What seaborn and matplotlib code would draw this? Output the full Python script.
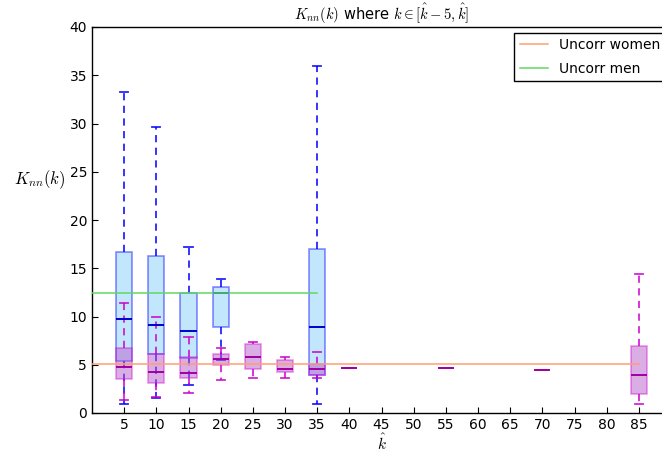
import numpy as np
import pandas as pd
import matplotlib
matplotlib.use("Agg")
import matplotlib.pyplot as plt
import seaborn as sns

# ---- data ----
men_k   = [5, 10, 15, 20, 35]
men_min = [0.93, 1.55, 2.87, 5.46, 0.93]
men_q1  = [5.39, 6.08, 5.66, 8.95, 3.94]
men_med = [9.74, 9.08, 8.50, 12.40, 8.95]
men_q3  = [16.65, 16.30, 12.40, 13.10, 16.96]
men_max = [33.30, 29.60, 17.20, 13.90, 36.00]

women_k   = [5, 10, 15, 20, 25, 30, 35, 40, 55, 70, 85]
women_min = [1.30, 1.70, 2.11, 3.38, 3.66, 3.66, 3.66, 4.70, 4.70, 4.45, 0.93]
women_q1  = [3.49, 3.15, 3.59, 4.97, 4.52, 4.28, 3.94, 4.70, 4.70, 4.45, 1.93]
women_med = [4.80, 4.28, 4.18, 5.63, 5.77, 4.52, 4.52, 4.70, 4.70, 4.45, 3.94]
women_q3  = [6.70, 6.08, 5.77, 6.10, 7.10, 5.49, 5.04, 4.70, 4.70, 4.45, 6.90]
women_max = [11.40, 9.95, 7.84, 6.70, 7.39, 5.84, 6.29, 4.70, 4.70, 4.45, 14.40]

uncorr_women = 5.04
uncorr_men = 12.47
xticks = list(range(5, 90, 5))
yticks = list(range(0, 45, 5))


def long_form(ks, mins, q1s, meds, q3s, maxs):
    rows = []
    for k, a, b, c, d, e in zip(ks, mins, q1s, meds, q3s, maxs):
        for v in (a, b, c, d, e):
            rows.append({"k": k, "v": v})
    return pd.DataFrame(rows)


df_men = long_form(men_k, men_min, men_q1, men_med, men_q3, men_max)
df_women = long_form(women_k, women_min, women_q1, women_med, women_q3, women_max)

plt.rcParams.update({
    "font.family": ["DejaVu Sans"],
    "font.size": 10,
    "mathtext.fontset": "cm",
    "xtick.direction": "in",
    "ytick.direction": "in",
    "xtick.major.size": 4,
    "ytick.major.size": 4,
})

fig = plt.figure(figsize=(6.62, 4.5), dpi=100)
ax = fig.add_axes([92 / 662, 1 - 413 / 450, (671 - 92) / 662, (413 - 27) / 450])

dash = (0, (4, 3))
sns.boxplot(
    data=df_men, x="k", y="v", native_scale=True, orient="x",
    whis=(0, 100), width=0.5, ax=ax, showfliers=False,
    boxprops=dict(facecolor=(0.53, 0.81, 0.98, 0.5), edgecolor=(0, 0, 1, 0.45), linewidth=1.2),
    medianprops=dict(color="#0000cc", linewidth=1.4),
    whiskerprops=dict(color="#0000ff", linestyle=dash, linewidth=1.3, alpha=0.85),
    capprops=dict(color="#0000ff", linewidth=1.3, alpha=0.85),
)
sns.boxplot(
    data=df_women, x="k", y="v", native_scale=True, orient="x",
    whis=(0, 100), width=0.5, ax=ax, showfliers=False,
    boxprops=dict(facecolor=(0.725, 0.365, 0.804, 0.5), edgecolor=(0.8, 0, 0.8, 0.4), linewidth=1.2),
    medianprops=dict(color="#a000a0", linewidth=1.4),
    whiskerprops=dict(color="#cc00cc", linestyle=dash, linewidth=1.3, alpha=0.85),
    capprops=dict(color="#cc00cc", linewidth=1.3, alpha=0.85),
)

ax.plot([0, women_k[-1]], [uncorr_women, uncorr_women], color="#ff9f70", lw=1.1,
        label="Uncorr women", zorder=5)
ax.plot([0, men_k[-1]], [uncorr_men, uncorr_men], color="#5fd85f", lw=1.1,
        label="Uncorr men", zorder=5)

ax.set_xlim(0, 90)
ax.set_ylim(0, 40)
ax.set_xticks(xticks)
ax.set_xticklabels([str(t) for t in xticks])
ax.set_yticks(yticks)
ax.set_yticklabels([str(t) for t in yticks])
ax.tick_params(top=False, right=False)
for s in ax.spines.values():
    s.set_color("black")
    s.set_linewidth(1.0)

ax.set_title(r"$K_{nn}(k)$ where $k \in [\hat{k}-5, \hat{k}]$", fontsize=10.5, pad=5)
ax.set_xlabel(r"$\hat{k}$", fontsize=11, va="top")
ax.xaxis.set_label_coords(0.5, -0.05)
ax.set_ylabel(r"$K_{nn}(k)$", rotation=0, fontsize=12, va="center", ha="center")
ax.yaxis.set_label_coords(-0.09, 0.604)

leg = ax.legend(loc="upper right", fancybox=False, framealpha=1.0,
                edgecolor="black", fontsize=10, labelspacing=0.7,
                borderaxespad=0.4)
leg.get_frame().set_linewidth(1.0)

fig.savefig("out.png", dpi=100)
